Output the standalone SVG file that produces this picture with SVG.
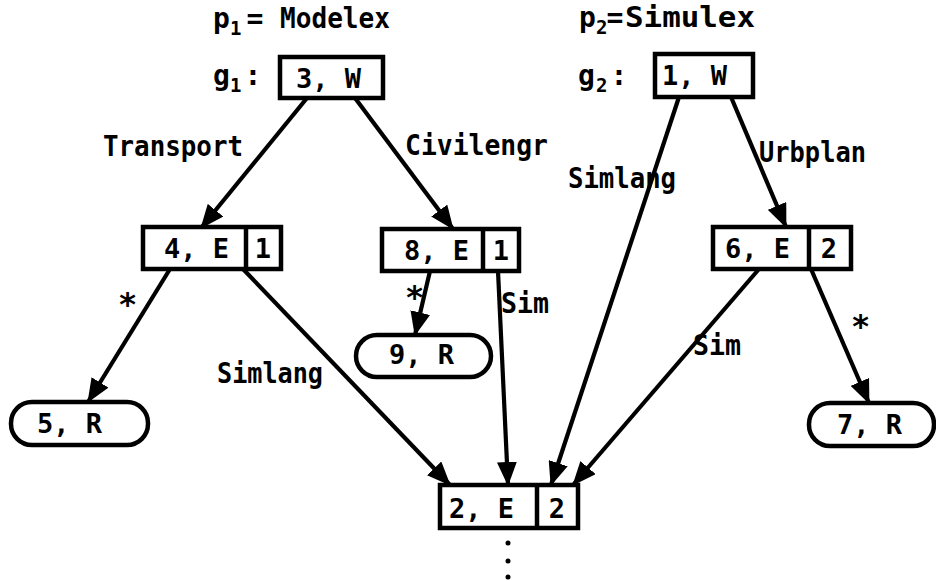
<svg xmlns="http://www.w3.org/2000/svg" width="936" height="581" viewBox="0 0 936 581">
<style>
.box{fill:#fff;stroke:#000;stroke-width:4.5}
.div{stroke:#000;stroke-width:4.5}
.nt{font-family:"DejaVu Sans Mono",monospace;font-size:27px;font-weight:bold;fill:#000}
.lb{font-family:"DejaVu Sans Mono",monospace;font-size:28px;font-weight:bold;fill:#000}
.ast{font-family:"DejaVu Sans Mono",monospace;font-size:32px;font-weight:bold;fill:#000}
.sub{font-family:"DejaVu Sans Mono",monospace;font-size:19px;font-weight:bold;fill:#000}
.edge{stroke:#000;stroke-width:4.2;fill:none;marker-end:url(#ah)}
</style>
<defs>
<marker id="ah" markerUnits="userSpaceOnUse" markerWidth="24" markerHeight="20" refX="23" refY="10" orient="auto">
<path d="M0,0 L24,10 L0,20 z" fill="#000"/>
</marker>
</defs>
<rect width="936" height="581" fill="#fff"/>
<g id="titles">
<text class="lb" x="213" y="28">p</text><text class="sub" x="230" y="35">1</text><text class="lb" x="255" y="28" text-anchor="middle">=</text><text class="lb" x="280" y="28" textLength="110" lengthAdjust="spacingAndGlyphs">Modelex</text>
<text class="lb" x="213" y="85">g</text><text class="sub" x="230" y="92">1</text><text class="lb" x="253" y="85" text-anchor="middle">:</text>
<text class="lb" x="579" y="27">p</text><text class="sub" x="596" y="34">2</text><text class="lb" x="615" y="27" text-anchor="middle">=</text><text class="lb" x="625" y="27" textLength="130" lengthAdjust="spacingAndGlyphs">Simulex</text>
<text class="lb" x="578" y="85">g</text><text class="sub" x="596" y="92">2</text><text class="lb" x="619" y="85" text-anchor="middle">:</text>
</g>
<g id="connectors">
<line class="edge" x1="307" y1="98" x2="201" y2="228"/>
<line class="edge" x1="355" y1="98" x2="453" y2="229"/>
<line class="edge" x1="679" y1="97" x2="551" y2="485"/>
<line class="edge" x1="731" y1="97" x2="786" y2="227"/>
<line class="edge" x1="170" y1="269" x2="88" y2="402"/>
<line class="edge" x1="243" y1="269" x2="450" y2="485"/>
<line class="edge" x1="430" y1="271" x2="415" y2="335"/>
<line class="edge" x1="498" y1="271" x2="508" y2="485"/>
<line class="edge" x1="759" y1="269" x2="573" y2="485"/>
<line class="edge" x1="811" y1="269" x2="869" y2="403"/>
</g>
<g id="edge-labels">
<text class="lb" x="103" y="156" textLength="140" lengthAdjust="spacingAndGlyphs">Transport</text>
<text class="lb" x="405" y="155" textLength="143" lengthAdjust="spacingAndGlyphs">Civilengr</text>
<text class="lb" x="568" y="188" textLength="108" lengthAdjust="spacingAndGlyphs">Simlang</text>
<text class="lb" x="759" y="162" textLength="107" lengthAdjust="spacingAndGlyphs">Urbplan</text>
<text class="ast" x="118" y="315">*</text>
<text class="ast" x="405" y="308">*</text>
<text class="lb" x="501" y="313" textLength="48" lengthAdjust="spacingAndGlyphs">Sim</text>
<text class="lb" x="217" y="383" textLength="106" lengthAdjust="spacingAndGlyphs">Simlang</text>
<text class="lb" x="693" y="355" textLength="48" lengthAdjust="spacingAndGlyphs">Sim</text>
<text class="ast" x="851" y="337">*</text>
</g>
<g id="n3"><rect class="box" x="280" y="57" width="103" height="41"/><text class="nt" x="296" y="88">3, W</text></g>
<g id="n1"><rect class="box" x="655" y="54" width="98" height="43"/><text class="nt" x="662" y="85">1, W</text></g>
<g id="n4"><rect class="box" x="143" y="227" width="138" height="42"/><line class="div" x1="246" y1="227" x2="246" y2="269"/><text class="nt" x="164" y="258">4, E</text><text class="nt" x="263" y="258" text-anchor="middle">1</text></g>
<g id="n8"><rect class="box" x="382" y="229" width="137" height="42"/><line class="div" x1="483" y1="229" x2="483" y2="271"/><text class="nt" x="404" y="260">8, E</text><text class="nt" x="501" y="260" text-anchor="middle">1</text></g>
<g id="n6"><rect class="box" x="713" y="227" width="138" height="42"/><line class="div" x1="809" y1="227" x2="809" y2="269"/><text class="nt" x="725" y="258">6, E</text><text class="nt" x="829" y="258" text-anchor="middle">2</text></g>
<g id="n2"><rect class="box" x="440" y="485" width="138" height="43"/><line class="div" x1="537" y1="485" x2="537" y2="528"/><text class="nt" x="449" y="518">2, E</text><text class="nt" x="557" y="518" text-anchor="middle">2</text></g>
<g id="n9"><rect class="box" x="356" y="335" width="135" height="42" rx="21"/><text class="nt" x="389" y="364">9, R</text></g>
<g id="n5"><rect class="box" x="11" y="402" width="137" height="43" rx="21"/><text class="nt" x="37" y="433">5, R</text></g>
<g id="n7"><rect class="box" x="809" y="403" width="125" height="43" rx="21"/><text class="nt" x="837" y="434">7, R</text></g>
<g id="dots"><circle cx="508" cy="543" r="2.5"/><circle cx="508" cy="561" r="2.5"/><circle cx="508" cy="577" r="2.5"/></g>
</svg>
